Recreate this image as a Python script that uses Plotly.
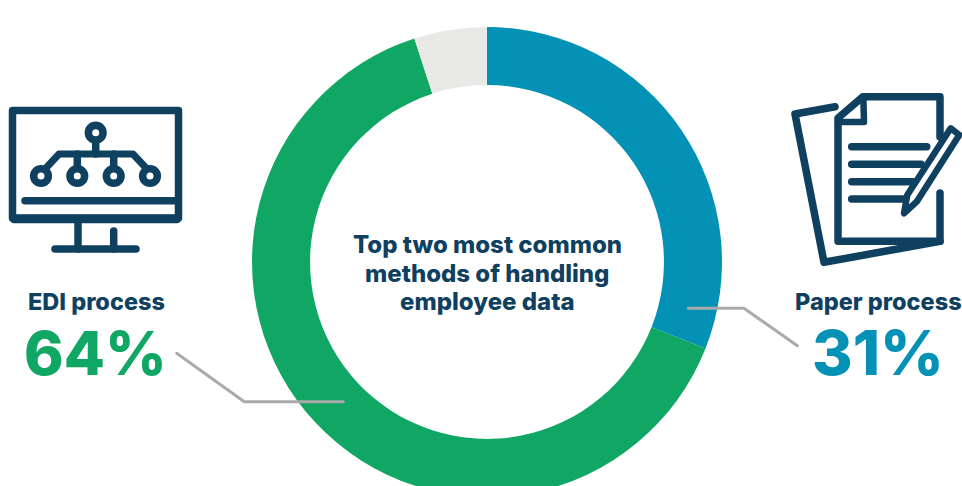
import plotly.graph_objects as go

# Survey shares
methods = ["Paper process", "EDI process", "Other"]
shares = [31, 64, 5]
slice_colors = ["#0391B5", "#0FA763", "#E8E8E6"]
center_lines = ["Top two most common", "methods of handling", "employee data"]

NAVY = "#0F4060"
GREY = "#AAAAAA"
W, H = 962, 500
FONT = "Inter"


def poly(points, close=False):
    d = "M " + " L ".join(f"{x} {y}" for x, y in points)
    return d + (" Z" if close else "")


def stroke(points, width=7.5, color=NAVY, fill=None, close=False):
    return dict(type="path", path=poly(points, close), xref="x", yref="y", layer="above",
                line=dict(color=color, width=width),
                fillcolor=fill if fill else "rgba(0,0,0,0)")


def ring(cx, cy, r=7.3, width=7.6):
    return dict(type="circle", xref="x", yref="y", layer="above",
                x0=cx - r, x1=cx + r, y0=cy - r, y1=cy + r,
                line=dict(color=NAVY, width=width), fillcolor="white")


fig = go.Figure()
fig.add_trace(go.Pie(
    labels=methods, values=shares, sort=False, direction="clockwise", rotation=0,
    hole=0.753, textinfo="none", hoverinfo="label+percent", showlegend=False,
    marker=dict(colors=slice_colors, line=dict(width=0)),
    domain=dict(x=[252 / W, 722 / W], y=[(H - 497) / H, (H - 27) / H]),
))

shapes = [
    # monitor icon
    stroke([(12.5, 110.5), (178.5, 110.5), (178.5, 218), (12.5, 218)], close=True),
    stroke([(14, 219), (177, 219)], width=8.5),
    stroke([(25, 200.8), (176, 200.8)]),
    stroke([(78, 222), (78, 249)]),
    stroke([(55, 249), (136, 249)]),
    stroke([(113.7, 231), (113.7, 249)]),
    # circuit inside the monitor
    stroke([(95.7, 140), (95.7, 154)]),
    stroke([(46, 168), (59, 154), (133, 154), (146, 168)], width=7),
    stroke([(77.3, 154), (77.3, 170)]),
    stroke([(113.7, 154), (113.7, 170)]),
    ring(95.7, 132.7),
    ring(41, 176),
    ring(77.3, 176),
    ring(113.7, 176),
    ring(150, 176),
    # paper icon
    stroke([(835, 106.7), (795, 114), (824, 262.3), (940, 241.3)]),
    stroke([(940, 193), (940, 241.3), (838, 241.3), (838, 118), (863, 96.7), (940, 96.7), (940, 137)]),
    stroke([(863.3, 96.7), (864, 122), (840, 122)], width=6.5),
    stroke([(851.7, 146.7), (926.7, 146.7)]),
    stroke([(851.7, 164.3), (921, 164.3)]),
    stroke([(851.7, 181.7), (913, 181.7)]),
    stroke([(851.7, 199), (905, 199)]),
    stroke([(904, 213.3), (907.3, 195), (950.7, 128.3), (959.3, 135), (916.7, 201.7)],
           width=6.5, fill="white", close=True),
    # leader lines
    stroke([(176.7, 353.3), (244.3, 401.7), (343.3, 401.7)], width=3, color=GREY),
    stroke([(688.3, 308.3), (744, 308.3), (797.3, 345.7)], width=3, color=GREY),
]


def label(x, y, text, size, color, weight=800):
    return dict(x=x, y=y, xref="x", yref="y", text=text, showarrow=False,
                xanchor="center", yanchor="middle",
                font=dict(family=FONT, size=size, color=color, weight=weight))


annotations = [label(487, y, line, 24, NAVY) for y, line in zip((244.5, 273, 301.5), center_lines)]
annotations += [
    label(96, 301.5, methods[1], 23.5, NAVY),
    label(95.5, 352.5, f"{shares[1]}%", 60, slice_colors[1]),
    label(878, 301.5, methods[0], 23.5, NAVY),
    label(877.5, 352.5, f"{shares[0]}%", 62, slice_colors[0]),
]

fig.update_layout(
    width=W, height=H, margin=dict(l=0, r=0, t=0, b=0),
    paper_bgcolor="white", plot_bgcolor="white",
    xaxis=dict(range=[0, W], visible=False, fixedrange=True),
    yaxis=dict(range=[H, 0], visible=False, fixedrange=True),
    shapes=shapes, annotations=annotations,
)

# Rounded stroke ends for the icons; the ring runs past the bottom of the page.
rounding = """
document.documentElement.style.overflow = 'hidden';
document.body.style.overflow = 'hidden';
document.querySelectorAll('.shapelayer path').forEach(function (p) {
  p.style.strokeLinecap = 'round';
  p.style.strokeLinejoin = 'round';
});
"""
fig.write_html("out.html", config={"displayModeBar": False}, post_script=rounding)
